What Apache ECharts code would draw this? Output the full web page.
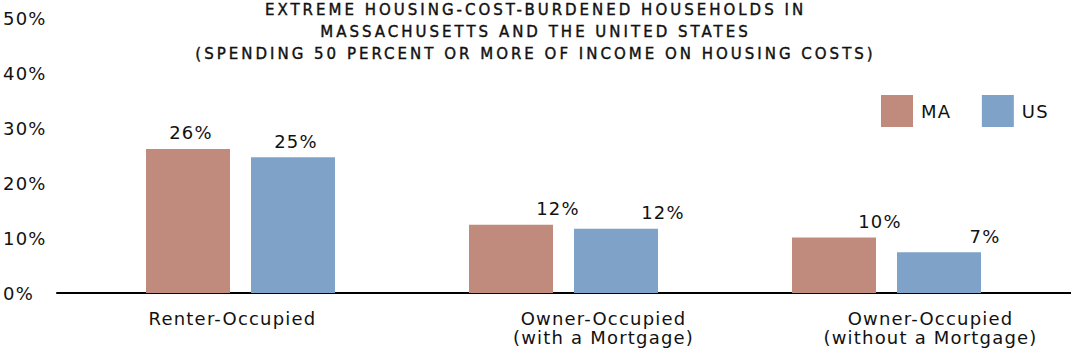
<!DOCTYPE html>
<html><head><meta charset="utf-8">
<script src="https://cdn.jsdelivr.net/npm/echarts@6/dist/echarts.min.js"></script>
<style>
html,body{margin:0;padding:0;background:#fff;}
#main{width:1071px;height:357px;}
#main text{letter-spacing:1.2px;}
#main text[style*="15px"]{letter-spacing:3px;stroke:#111;stroke-width:0.4px;}
</style></head><body><div id="main"></div>
<script>
// ---- data ----
const titleLines = [
  'EXTREME HOUSING-COST-BURDENED HOUSEHOLDS IN',
  'MASSACHUSETTS AND THE UNITED STATES',
  '(SPENDING 50 PERCENT OR MORE OF INCOME ON HOUSING COSTS)'
];
const categories = ['Renter-Occupied', 'Owner-Occupied\n(with a Mortgage)', 'Owner-Occupied\n(without a Mortgage)'];
const seriesNames = ['MA', 'US'];
const maValues = [26.2, 12.4, 10.1];
const usValues = [24.7, 11.7, 7.4];
const yTicks = [0, 10, 20, 30, 40, 50];

// ---- style ----
const FONT = 'DejaVu Sans';
const colors = { MA: '#C08B7D', US: '#7FA3C8' };
const valueLabelShift = [3, 47, 46];
const categoryLabelShift = [-8, 40, 44];

function catItem(c, i) {
  const s = categoryLabelShift[i];
  return { value: c, textStyle: { padding: s >= 0 ? [0, 0, 0, 2 * s] : [0, -2 * s, 0, 0] } };
}
function barSeries(name, values) {
  return {
    name: name, type: 'bar', xAxisIndex: 0, yAxisIndex: 0,
    barWidth: 84, barGap: '25%',
    itemStyle: { color: colors[name] },
    label: {
      show: true, position: 'top', distance: 7,
      fontFamily: FONT, fontSize: 18, color: '#111',
      formatter: p => Math.round(p.value) + '%'
    },
    data: values.map((v, i) => ({ value: v, label: { offset: [valueLabelShift[i], 0] } }))
  };
}

const chart = echarts.init(document.getElementById('main'), null, { renderer: 'svg' });
chart.setOption({
  animation: false,
  backgroundColor: '#fff',
  title: {
    text: titleLines.join('\n'),
    left: 'center', top: -1, padding: [0, 0, 0, 9],
    textStyle: { fontFamily: FONT, fontSize: 15, fontWeight: 'normal', color: '#111', lineHeight: 22 }
  },
  legend: {
    data: seriesNames, left: 876, top: 90,
    itemWidth: 32, itemHeight: 32, itemGap: 33, icon: 'rect',
    textStyle: { fontFamily: FONT, fontSize: 18, color: '#111', padding: [0, 0, 0, 3] }
  },
  grid: [
    { left: 77, right: 23, top: 18, bottom: 64 },
    { left: 57, right: 0, top: 18, bottom: 64 }
  ],
  xAxis: [
    {
      type: 'category', gridIndex: 0, data: categories.map(catItem),
      axisLine: { show: false }, axisTick: { show: false },
      axisLabel: { fontFamily: FONT, fontSize: 18, color: '#111', margin: 16, lineHeight: 19, interval: 0 }
    },
    {
      type: 'value', gridIndex: 1, min: 0, max: 1,
      axisLine: { show: true, lineStyle: { color: '#000', width: 2 } },
      axisTick: { show: false }, axisLabel: { show: false }, splitLine: { show: false }
    }
  ],
  yAxis: [
    {
      type: 'value', gridIndex: 0,
      min: yTicks[0], max: yTicks[yTicks.length - 1], interval: yTicks[1] - yTicks[0],
      axisLine: { show: false }, axisTick: { show: false }, splitLine: { show: false },
      axisLabel: { fontFamily: FONT, fontSize: 18, color: '#111', align: 'left', margin: 76, formatter: '{value}%' }
    },
    {
      type: 'value', gridIndex: 1, min: 0, max: 50, show: false
    }
  ],
  series: [barSeries('MA', maValues), barSeries('US', usValues)]
});
</script></body></html>
